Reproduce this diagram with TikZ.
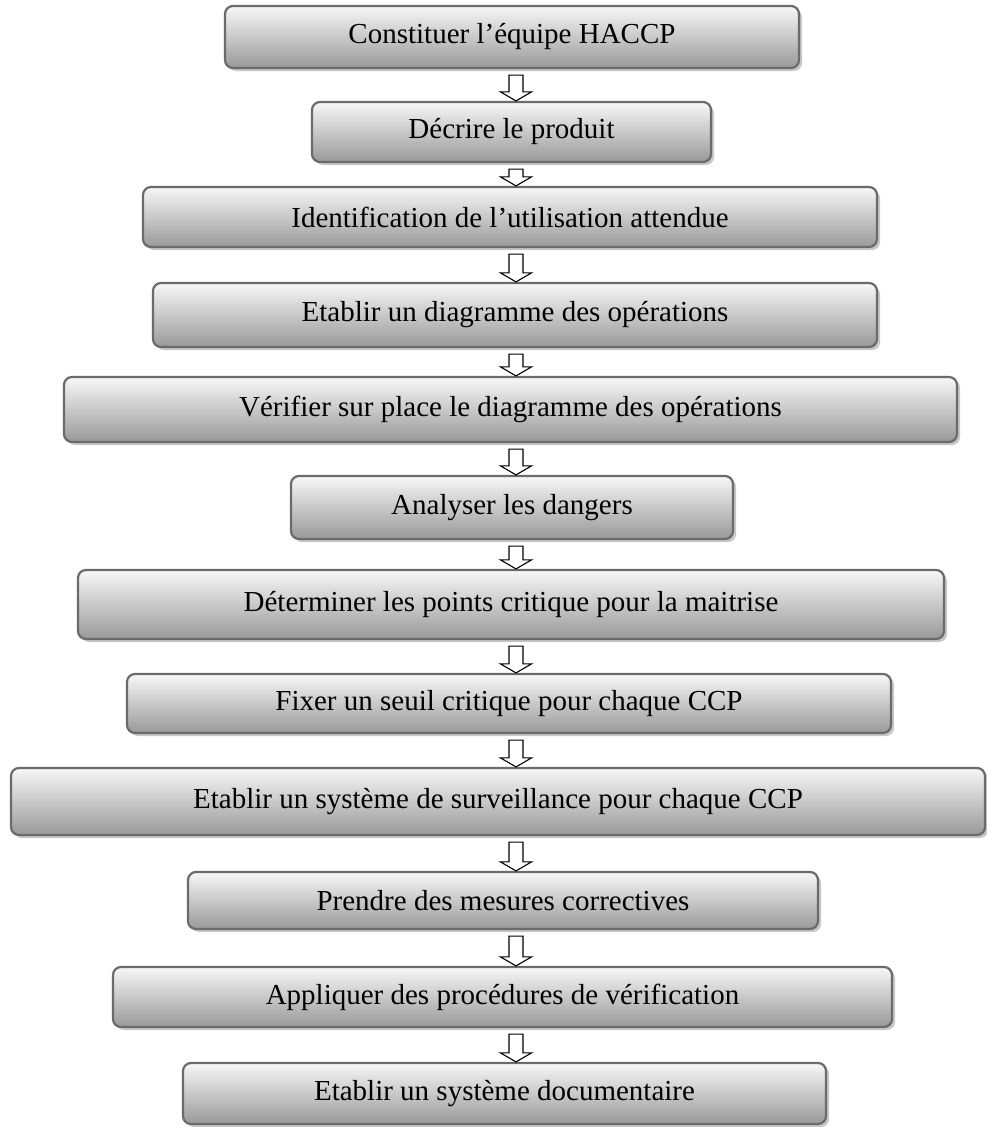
\documentclass[tikz,border=0pt]{standalone}
\usepackage{fontspec}
\setmainfont{Liberation Serif}
\usetikzlibrary{calc,shadows}

\tikzset{
  stepbox/.style={
    rectangle, rounded corners=8pt,
    draw=black!58, line width=2.2pt,
    top color=white!97!black, bottom color=black!40,
    drop shadow={shadow xshift=3pt, shadow yshift=-3pt, fill=black!22, opacity=1},
    font=\fontsize{29}{34}\selectfont, text=black,
    inner sep=0pt, align=center
  },
  hollowarrow/.style={draw=black, line width=1.1pt, fill=white, line join=miter}
}

% hollow block arrow from the bottom of one step to the top of the next
\def\arrowx{516}
\newcommand{\flowarrow}[2]{%
  \draw[hollowarrow] let \p1=(#1.south), \p2=(#2.north) in
    (\arrowx pt-7pt,\y1-6pt) -- (\arrowx pt-7pt,\y2+9pt) -- (\arrowx pt-15.5pt,\y2+9pt)
    -- (\arrowx pt,\y2) -- (\arrowx pt+15.5pt,\y2+9pt) -- (\arrowx pt+7pt,\y2+9pt)
    -- (\arrowx pt+7pt,\y1-6pt) -- cycle;
}

\begin{document}
\begin{tikzpicture}[x=1pt,y=-1pt]
  \useasboundingbox (0,0) rectangle (986,1127);

  \node[stepbox, minimum width=574pt, minimum height=62pt] (s1) at (512,37) {Constituer l’équipe HACCP};
  \node[stepbox, minimum width=399pt, minimum height=60pt] (s2) at (511.5,132) {Décrire le produit};
  \node[stepbox, minimum width=734pt, minimum height=60pt] (s3) at (510,217) {Identification de l’utilisation attendue};
  \node[stepbox, minimum width=724pt, minimum height=64pt] (s4) at (515,315) {Etablir un diagramme des opérations};
  \node[stepbox, minimum width=893pt, minimum height=65pt] (s5) at (510.5,409.5) {Vérifier sur place le diagramme des opérations};
  \node[stepbox, minimum width=442pt, minimum height=63pt] (s6) at (512,507.5) {Analyser les dangers};
  \node[stepbox, minimum width=866pt, minimum height=69pt] (s7) at (511,604.5) {Déterminer les points critique pour la maitrise};
  \node[stepbox, minimum width=764pt, minimum height=59pt] (s8) at (509,703.5) {Fixer un seuil critique pour chaque CCP};
  \node[stepbox, minimum width=974pt, minimum height=67pt] (s9) at (498,801.5) {Etablir un système de surveillance pour chaque CCP};
  \node[stepbox, minimum width=630pt, minimum height=57pt] (s10) at (503,900.5) {Prendre des mesures correctives};
  \node[stepbox, minimum width=779pt, minimum height=60pt] (s11) at (502.5,997) {Appliquer des procédures de vérification};
  \node[stepbox, minimum width=643pt, minimum height=61pt] (s12) at (504.5,1093.5) {Etablir un système documentaire};

  \flowarrow{s1}{s2}
  \flowarrow{s2}{s3}
  \flowarrow{s3}{s4}
  \flowarrow{s4}{s5}
  \flowarrow{s5}{s6}
  \flowarrow{s6}{s7}
  \flowarrow{s7}{s8}
  \flowarrow{s8}{s9}
  \flowarrow{s9}{s10}
  \flowarrow{s10}{s11}
  \flowarrow{s11}{s12}
\end{tikzpicture}
\end{document}
